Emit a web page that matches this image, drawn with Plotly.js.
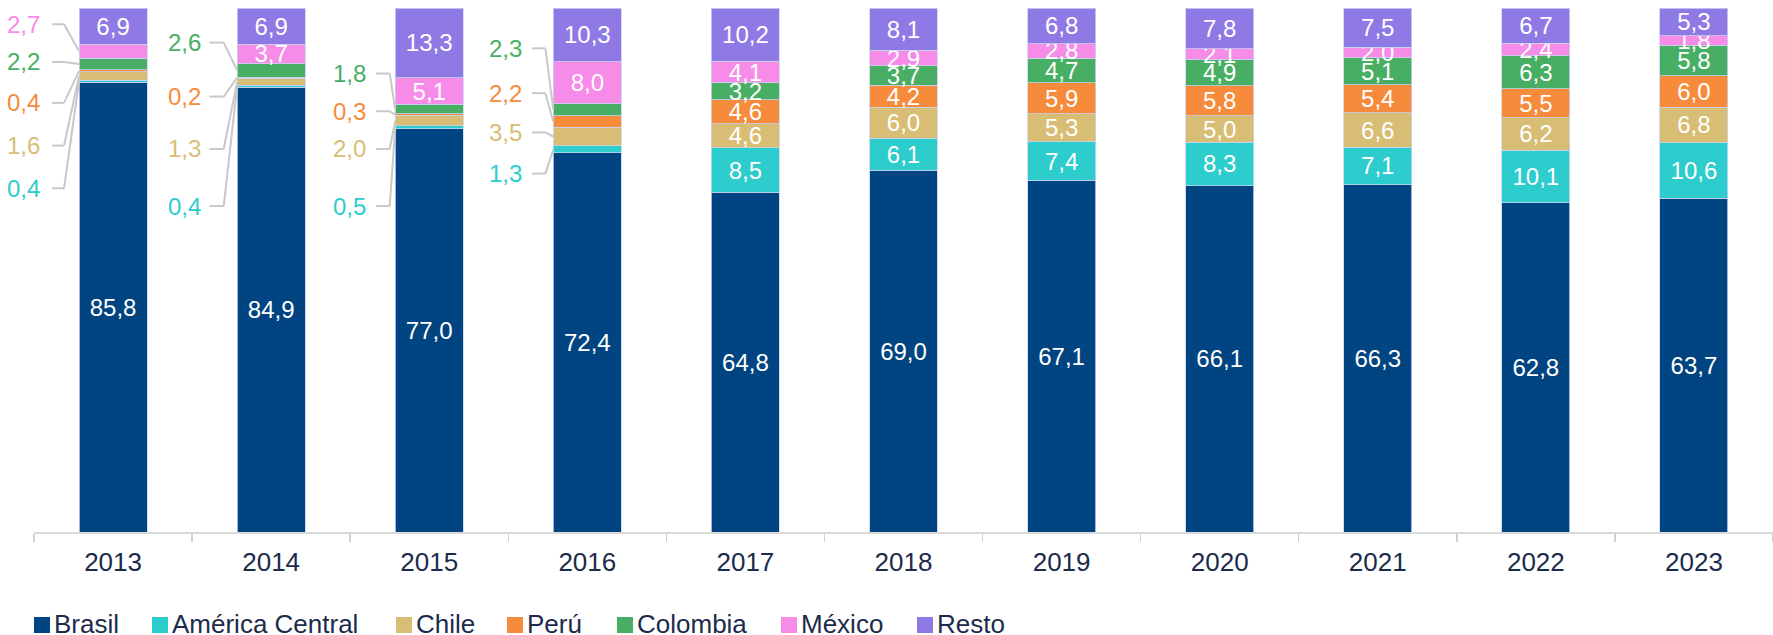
<!DOCTYPE html>
<html>
<head>
<meta charset="utf-8">
<script src="https://cdn.plot.ly/plotly-3.0.1.min.js"></script>
<style>
html,body{margin:0;padding:0;background:#fff;}
#chart{width:1773px;height:635px;}
</style>
</head>
<body>
<div id="chart"></div>
<script>
// ---- data ----
const years = ['2013','2014','2015','2016','2017','2018','2019','2020','2021','2022','2023'];
const seriesNames = ['Brasil','América Central','Chile','Perú','Colombia','México','Resto'];
const brasil   = [85.8, 84.9, 77.0, 72.4, 64.8, 69.0, 67.1, 66.1, 66.3, 62.8, 63.7];
const amCentral= [0.4, 0.4, 0.5, 1.3, 8.5, 6.1, 7.4, 8.3, 7.1, 10.1, 10.6];
const chile    = [1.6, 1.3, 2.0, 3.5, 4.6, 6.0, 5.3, 5.0, 6.6, 6.2, 6.8];
const peru     = [0.4, 0.2, 0.3, 2.2, 4.6, 4.2, 5.9, 5.8, 5.4, 5.5, 6.0];
const colombia = [2.2, 2.6, 1.8, 2.3, 3.2, 3.7, 4.7, 4.9, 5.1, 6.3, 5.8];
const mexico   = [2.7, 3.7, 5.1, 8.0, 4.1, 2.9, 2.8, 2.1, 2.0, 2.4, 1.8];
const resto    = [6.9, 6.9, 13.3, 10.3, 10.2, 8.1, 6.8, 7.8, 7.5, 6.7, 5.3];
const seriesValues = [brasil, amCentral, chile, peru, colombia, mexico, resto];

// ---- styling ----
const colors = ['#004481','#2DCCCD','#D8BE75','#F78B3C','#48AE64','#F78BE8','#8F7AE5'];
const textColor = '#1c2b4b';
const FONT = '"Liberation Sans", Arial, sans-serif';

// plot area in pixels (for placing the legend below it)
const W = 1773, H = 635;
const M = {l: 34, r: 0, t: 8, b: 103};
const plotW = W - M.l - M.r, plotH = H - M.t - M.b;
const px2paperX = px => (px - M.l) / plotW;
const px2paperY = py => (H - M.b - py) / plotH;

// callout placement (layout only): [yearIndex, seriesIndex, labelY]
const callouts = [
  [0,5,96.9],[0,4,89.7],[0,3,81.9],[0,2,73.75],[0,1,65.6],
  [1,4,93.4],[1,3,83.1],[1,2,73.1],[1,1,62.2],
  [2,4,87.5],[2,3,80.3],[2,2,73.1],[2,1,62.2],
  [3,4,92.3],[3,3,83.75],[3,2,76.25],[3,1,68.4]
];
// per-year offsets: [labelRight, leaderStart, leaderElbow]
const calloutOffsets = {0:[-0.45,-0.385,-0.31],1:[-0.43,-0.39,-0.30],2:[-0.385,-0.335,-0.25],3:[-0.40,-0.35,-0.265]};
const halfBar = 0.215;
// legend swatch left edges (px)
const legendSwatchX = [34, 152, 396, 507, 617, 781, 917];
const legendCenterY = 624;

const fmt = v => v.toFixed(1).replace('.', ',');
const isCallout = (yi, si) => callouts.some(c => c[0] === yi && c[1] === si);

const traces = seriesNames.map((name, si) => ({
  type: 'bar',
  name: name,
  x: years,
  y: seriesValues[si],
  marker: {color: colors[si], line: {color: '#c9d3f0', width: 0.8}},
  textposition: years.map((_, yi) => isCallout(yi, si) ? 'none' : 'inside'),
  texttemplate: '%{y:.1f}',
  insidetextanchor: 'middle',
  textangle: 0,
  constraintext: 'none',
  textfont: {color: '#ffffff', size: 24, family: FONT},
  hoverinfo: 'skip',
  showlegend: false
}));

const annotations = [];
const shapes = [];
callouts.forEach(([yi, si, ly]) => {
  const off = calloutOffsets[yi];
  let base = 0;
  for (let k = 0; k < si; k++) base += seriesValues[k][yi];
  const mid = base + seriesValues[si][yi] / 2;
  annotations.push({
    xref: 'x', yref: 'y', x: yi + off[0], y: ly,
    text: fmt(seriesValues[si][yi]), showarrow: false,
    xanchor: 'right', yanchor: 'middle',
    font: {color: colors[si], size: 24, family: FONT}
  });
  shapes.push({type: 'line', xref: 'x', yref: 'y', x0: yi + off[1], x1: yi + off[2], y0: ly, y1: ly,
    line: {color: '#c8c8c8', width: 2}});
  shapes.push({type: 'line', xref: 'x', yref: 'y', x0: yi + off[2], x1: yi - halfBar, y0: ly, y1: mid,
    line: {color: '#c8c8c8', width: 2}});
});

// custom legend (swatch + name)
seriesNames.forEach((name, si) => {
  const sx = legendSwatchX[si];
  shapes.push({type: 'rect', xref: 'paper', yref: 'paper',
    x0: px2paperX(sx), x1: px2paperX(sx + 16),
    y0: px2paperY(legendCenterY + 9), y1: px2paperY(legendCenterY - 7),
    fillcolor: colors[si], line: {width: 0}});
  annotations.push({xref: 'paper', yref: 'paper', x: px2paperX(sx + 18), y: px2paperY(legendCenterY),
    text: name, showarrow: false, xanchor: 'left', yanchor: 'middle',
    font: {size: 26, color: textColor, family: FONT}});
});

const layout = {
  width: W, height: H,
  margin: {l: M.l, r: M.r, t: M.t, b: M.b, pad: 0},
  barmode: 'stack',
  bargap: 0.57,
  separators: ',.',
  paper_bgcolor: '#ffffff', plot_bgcolor: '#ffffff',
  font: {family: FONT, color: textColor},
  uniformtext: {mode: 'show', minsize: 24},
  showlegend: false,
  xaxis: {
    type: 'category',
    range: [-0.5, years.length - 0.5], autorange: false,
    showline: true, linecolor: '#d9d9d9', linewidth: 1.5,
    ticks: 'outside', tickson: 'boundaries', ticklen: 8, tickwidth: 1.5, tickcolor: '#d0d0d0',
    tickfont: {size: 26, color: textColor, family: FONT},
    ticklabelstandoff: 6,
    showgrid: false, zeroline: false, fixedrange: true
  },
  yaxis: {
    range: [0, 100], autorange: false, visible: false, showgrid: false, zeroline: false, fixedrange: true
  },
  annotations: annotations,
  shapes: shapes
};

Plotly.newPlot('chart', traces, layout, {displayModeBar: false, staticPlot: true});
</script>
</body>
</html>
